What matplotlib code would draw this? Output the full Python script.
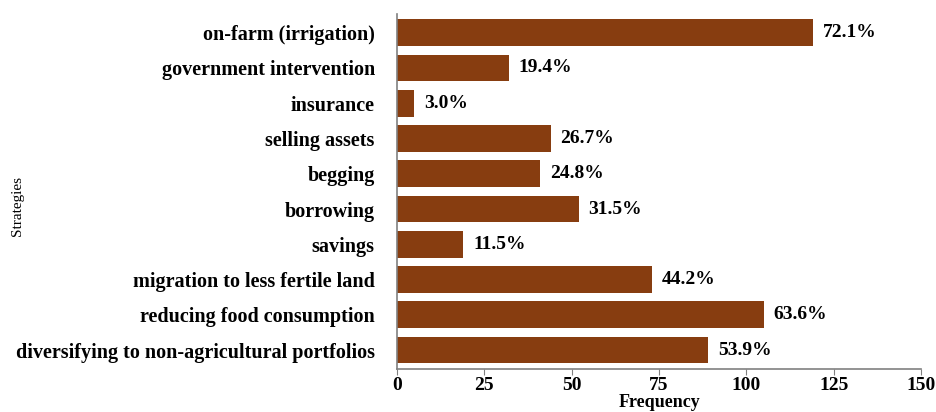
import numpy as np
import matplotlib.pyplot as plt

strategies = ['on-farm (irrigation)', 'government intervention', 'insurance',
              'selling assets', 'begging', 'borrowing', 'savings',
              'migration to less fertile land', 'reducing food consumption',
              'diversifying to non-agricultural portfolios']
freq = [119, 32, 5, 44, 41, 52, 19, 73, 105, 89]
pct = ['72.1%', '19.4%', '3.0%', '26.7%', '24.8%', '31.5%', '11.5%',
       '44.2%', '63.6%', '53.9%']
xticks = [0, 25, 50, 75, 100, 125, 150]

plt.rcParams['font.family'] = ['Liberation Serif', 'DejaVu Serif']

fig = plt.figure(figsize=(9.37, 4.12), dpi=100)
ax = fig.add_axes([0.4237, 0.105, 0.983 - 0.4237, 0.861])

y = np.arange(len(strategies))
ax.barh(y, freq, height=0.76, color='#873D10')
for yi, v, p in zip(y, freq, pct):
    ax.text(v + 2.8, yi, p, va='center', ha='left', fontsize=14, fontweight='bold')

ax.set_ylim(len(strategies) - 0.47, -0.53)
ax.set_xlim(0, 150)
ax.set_yticks(y)
ax.set_yticklabels(strategies, fontsize=14.5, fontweight='bold')
ax.set_xticks(xticks)
ax.set_xticklabels([str(t) for t in xticks], fontsize=14, fontweight='bold')
ax.tick_params(axis='y', length=0, pad=16)
ax.tick_params(axis='x', length=4, color='#808080', pad=2)

for s in ['top', 'right']:
    ax.spines[s].set_visible(False)
for s in ['left', 'bottom']:
    ax.spines[s].set_color('#808080')
    ax.spines[s].set_linewidth(1.2)

ax.set_xlabel('Frequency', fontsize=13, fontweight='bold', labelpad=0)
fig.text(0.019, 0.5, 'Strategies', rotation=90, va='center', ha='center', fontsize=11)

fig.savefig('out.png', dpi=100)
